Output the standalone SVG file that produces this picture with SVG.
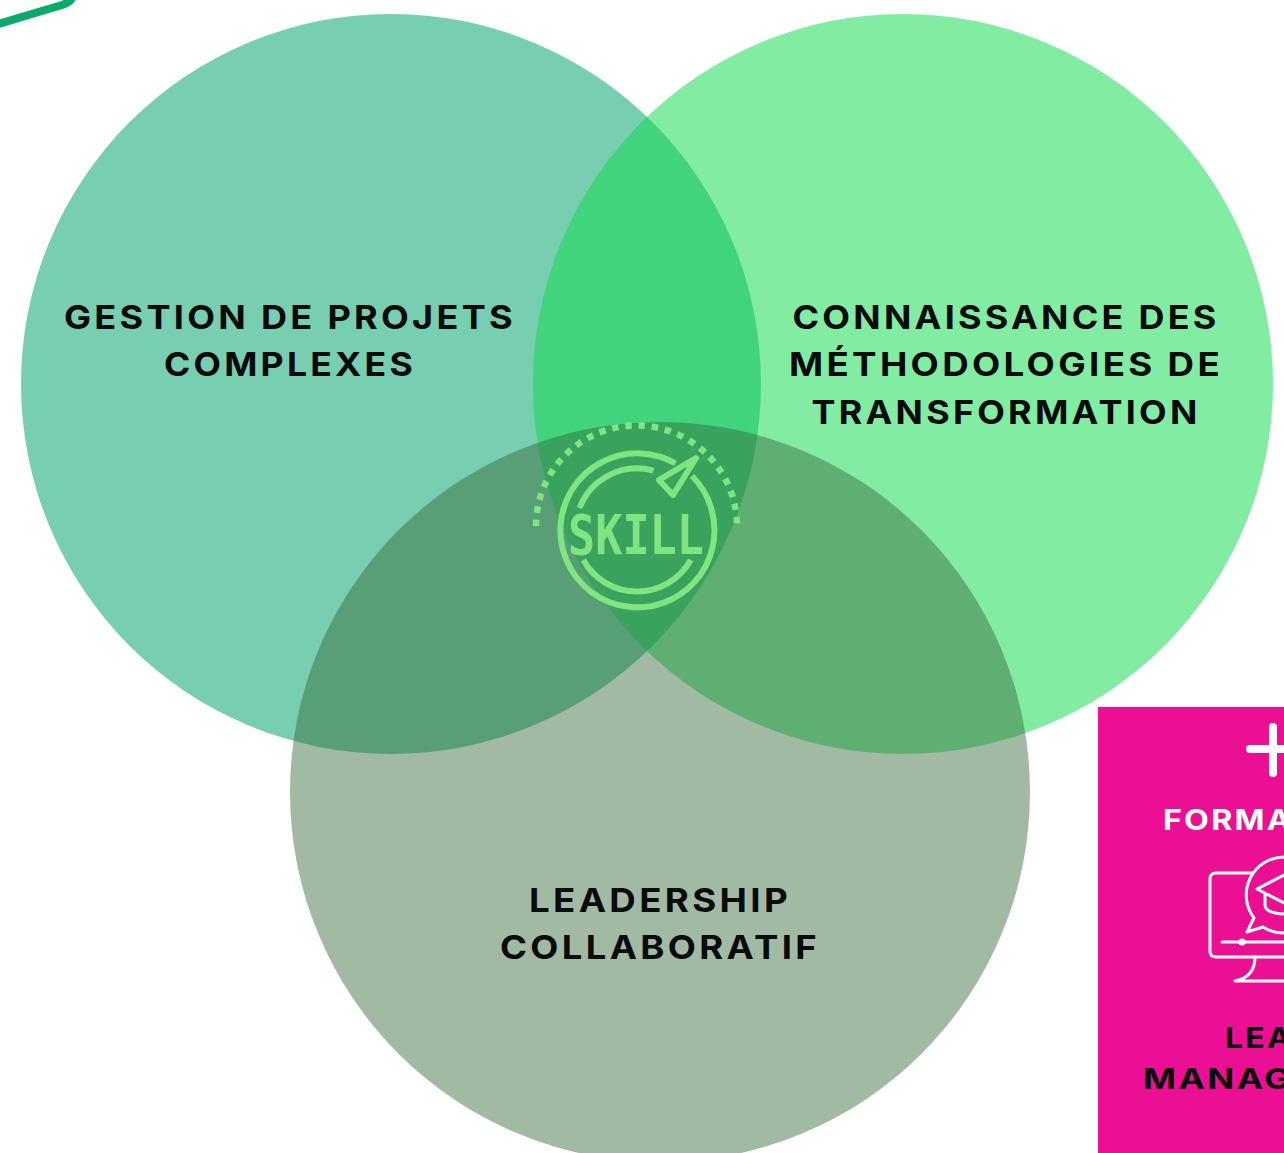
<svg xmlns="http://www.w3.org/2000/svg" width="1284" height="1153" viewBox="0 0 1284 1153">
<style>
.lbl{font-family:"Inter","Liberation Sans",sans-serif;font-weight:700;font-size:33px;letter-spacing:3px;fill:#0a0a0a;text-anchor:middle}
.ico{fill:none;stroke:#80E481;stroke-width:6}
.wh{fill:none;stroke:#fff;stroke-width:3;stroke-linecap:round;stroke-linejoin:round}
.pk{font-family:"Inter","Liberation Sans",sans-serif;font-weight:700;font-size:29px;letter-spacing:2px}
</style>
<rect width="1284" height="1153" fill="#fff"/>
<g id="corner-shape"><path d="M-5,25 L62,5 Q72,2 74,-6" fill="none" stroke="#0BAA6B" stroke-width="8"/></g>
<g id="circle-projets"><circle cx="391" cy="384" r="370" fill="#00A369" opacity=".53"/></g>
<g id="circle-methodologies"><circle cx="903" cy="384" r="370" fill="#0CD94A" opacity=".51"/></g>
<g id="circle-leadership"><circle cx="660" cy="792" r="370" fill="#306635" opacity=".45"/></g>
<g id="labels">
<text class="lbl" x="290" y="329" textLength="452" lengthAdjust="spacingAndGlyphs">GESTION DE PROJETS</text>
<text class="lbl" x="290" y="376" textLength="252" lengthAdjust="spacingAndGlyphs">COMPLEXES</text>
<text class="lbl" x="1006" y="329" textLength="427" lengthAdjust="spacingAndGlyphs">CONNAISSANCE DES</text>
<text class="lbl" x="1006" y="376" textLength="434" lengthAdjust="spacingAndGlyphs">MÉTHODOLOGIES DE</text>
<text class="lbl" x="1006" y="424" textLength="389" lengthAdjust="spacingAndGlyphs">TRANSFORMATION</text>
<text class="lbl" x="660" y="912" textLength="262" lengthAdjust="spacingAndGlyphs">LEADERSHIP</text>
<text class="lbl" x="660" y="959" textLength="320" lengthAdjust="spacingAndGlyphs">COLLABORATIF</text>
</g>
<g id="skill-icon">
<path class="ico" d="M675.5,463.4 A77,77 0 1 0 692,476"/>
<path class="ico" d="M579.5,508 A61.5,61.5 0 0 1 653.4,470.7"/>
<path class="ico" d="M583.3,560 A61.5,61.5 0 0 0 690.7,560"/>
<path d="M536,526 A100.5,100.5 0 0 1 737,526" fill="none" stroke="#80E481" stroke-width="6.5" stroke-dasharray="6.5 6.8"/>
<polygon class="ico" points="696,458 659,480 673,495" stroke-linejoin="round"/>
<text x="636" y="554" textLength="136" lengthAdjust="spacingAndGlyphs" font-family="'DejaVu Sans Mono',monospace" font-weight="700" font-size="56" fill="#80E481" text-anchor="middle">SKILL</text>
</g>
<g id="pink-card">
<rect x="1098" y="707" width="186" height="446" fill="#EB0F93"/>
<path d="M1273,727 V773 M1250,749 H1284" fill="none" stroke="#fff" stroke-width="8" stroke-linecap="round"/>
<text class="pk" x="1163" y="830" fill="#fff" textLength="130" lengthAdjust="spacingAndGlyphs">FORMA</text>
<path class="wh" d="M1284,957 H1216 Q1210,957 1210,951 V879 Q1210,873 1216,873 H1284"/>
<path class="wh" d="M1222,942 H1284"/>
<circle cx="1242" cy="942" r="3.5" fill="#fff"/>
<path class="wh" d="M1255,957 Q1255,977 1235,981 H1284"/>
<path class="wh" style="fill:#EB0F93" d="M1284,857 A38,38 0 0 0 1254,918 L1247,932 L1263,927 Q1272,933 1284,933"/>
<path class="wh" d="M1284,875 L1257,889 L1284,903 M1265,893 V905 Q1265,913 1284,914"/>
<text class="pk" x="1225" y="1048" fill="#0a0a0a" textLength="68" lengthAdjust="spacingAndGlyphs">LEA</text>
<text class="pk" x="1143" y="1089" fill="#0a0a0a" textLength="150" lengthAdjust="spacingAndGlyphs">MANAG</text>
</g>
</svg>
